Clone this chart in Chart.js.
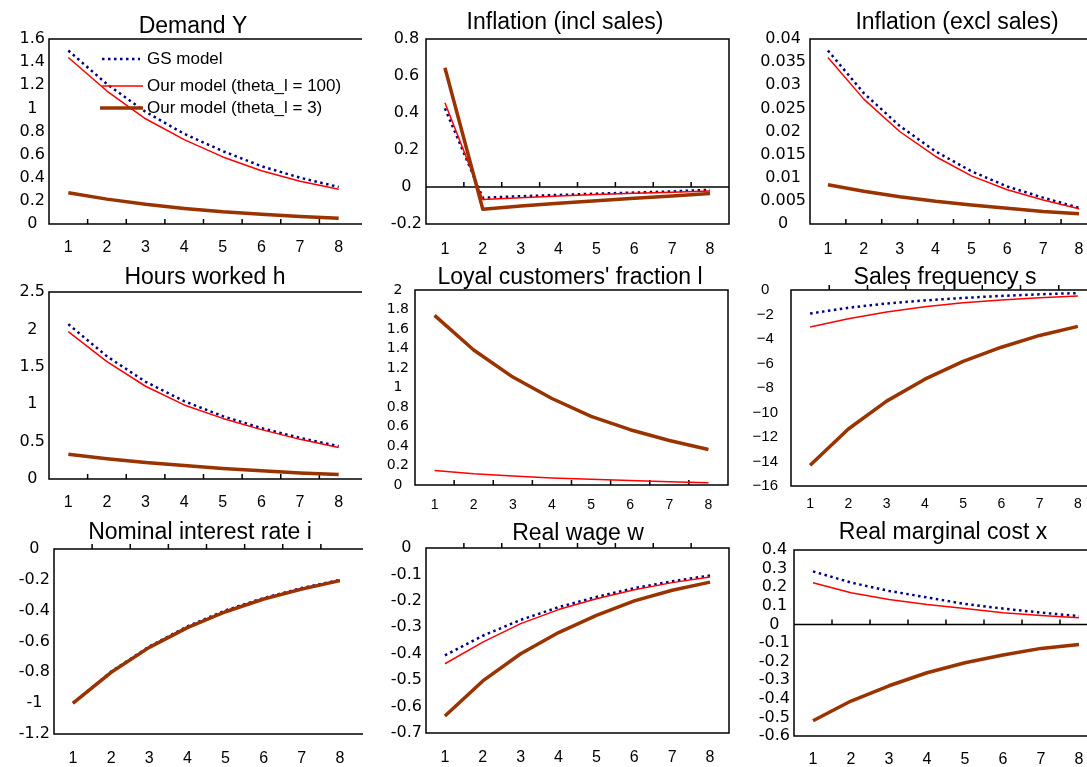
<!DOCTYPE html>
<html>
<head>
<meta charset="utf-8">
<script src="https://cdn.jsdelivr.net/npm/chart.js"></script>
<style>
  html, body { margin: 0; padding: 0; background: #fff; width: 1087px; height: 767px; overflow: hidden; position: relative; }
  canvas { position: absolute; }
</style>
</head>
<body>
<script>
// periods after the shock
const periods = ['1', '2', '3', '4', '5', '6', '7', '8'];
const seriesNames = ['GS model', 'Our model (theta_l = 100)', 'Our model (theta_l = 3)'];

// Demand Y
const demandGS  = [1.50, 1.21, 0.97, 0.78, 0.63, 0.50, 0.40, 0.32];
const demand100 = [1.44, 1.15, 0.91, 0.73, 0.58, 0.46, 0.37, 0.30];
const demand3   = [0.27, 0.215, 0.17, 0.135, 0.105, 0.085, 0.065, 0.05];

// Inflation (incl sales)
const inflInclGS  = [0.425, -0.058, -0.05, -0.043, -0.036, -0.03, -0.024, -0.015];
const inflIncl100 = [0.455, -0.068, -0.058, -0.049, -0.041, -0.034, -0.028, -0.022];
const inflIncl3   = [0.645, -0.12, -0.103, -0.088, -0.074, -0.061, -0.048, -0.035];

// Inflation (excl sales)
const inflExclGS  = [0.0375, 0.0283, 0.0212, 0.0157, 0.0114, 0.0081, 0.0057, 0.0035];
const inflExcl100 = [0.0360, 0.0270, 0.0200, 0.0146, 0.0104, 0.0074, 0.0052, 0.0033];
const inflExcl3   = [0.0085, 0.0071, 0.0059, 0.0049, 0.0041, 0.0034, 0.0027, 0.0022];

// Hours worked h
const hoursGS  = [2.07, 1.64, 1.30, 1.04, 0.84, 0.68, 0.55, 0.44];
const hours100 = [1.97, 1.57, 1.24, 0.99, 0.81, 0.66, 0.53, 0.42];
const hours3   = [0.33, 0.27, 0.22, 0.18, 0.14, 0.11, 0.08, 0.06];

// Loyal customers' fraction l (no GS line)
const loyal100 = [0.148, 0.115, 0.092, 0.073, 0.058, 0.045, 0.033, 0.022];
const loyal3   = [1.74, 1.385, 1.107, 0.887, 0.704, 0.567, 0.457, 0.364];

// Sales frequency s
const salesGS  = [-1.92, -1.45, -1.10, -0.85, -0.65, -0.48, -0.35, -0.25];
const sales100 = [-3.02, -2.34, -1.79, -1.37, -1.04, -0.82, -0.63, -0.49];
const sales3   = [-14.3, -11.35, -9.07, -7.28, -5.82, -4.67, -3.71, -2.97];

// Nominal interest rate i
const rateGS  = [-1.0, -0.795, -0.632, -0.502, -0.398, -0.318, -0.253, -0.201];
const rate100 = [-1.0, -0.798, -0.635, -0.505, -0.402, -0.320, -0.255, -0.202];
const rate3   = [-1.0, -0.80, -0.638, -0.51, -0.407, -0.325, -0.26, -0.205];

// Real wage w
const wageGS  = [-0.406, -0.332, -0.272, -0.224, -0.185, -0.152, -0.126, -0.104];
const wage100 = [-0.438, -0.356, -0.286, -0.233, -0.192, -0.158, -0.131, -0.11];
const wage3   = [-0.636, -0.503, -0.40, -0.32, -0.255, -0.20, -0.16, -0.129];

// Real marginal cost x
const mcGS  = [0.285, 0.225, 0.18, 0.145, 0.11, 0.085, 0.063, 0.045];
const mc100 = [0.224, 0.17, 0.134, 0.107, 0.086, 0.063, 0.048, 0.036];
const mc3   = [-0.518, -0.412, -0.33, -0.26, -0.206, -0.165, -0.129, -0.108];

// y axis [min, max, step]
const demandAxis   = [0, 1.6, 0.2];
const inflInclAxis = [-0.2, 0.8, 0.2];
const inflExclAxis = [0, 0.04, 0.005];
const hoursAxis    = [0, 2.5, 0.5];
const loyalAxis    = [0, 2, 0.2];
const salesAxis    = [-16, 0, 2];
const rateAxis     = [-1.2, 0, 0.2];
const wageAxis     = [-0.7, 0, 0.1];
const mcAxis       = [-0.6, 0.4, 0.1];

const lineStyles = [
    { borderColor: '#000080', borderWidth: 2.5, borderDash: [2.5, 3.5], order: 3 },
    { borderColor: '#ff0000', borderWidth: 1.5, order: 2 },
    { borderColor: '#993300', borderWidth: 3.5, order: 1 }
];

// frame, zero line with period ticks, and the panel title
const decor = {
    id: 'decor',
    beforeDatasetsDraw(chart, args, opts) {
        const { ctx, chartArea: a, scales: { x, y } } = chart;
        const right = opts.openRight ? a.right + 4 : a.right;
        ctx.save();
        ctx.strokeStyle = '#000';
        ctx.lineWidth = 1.5;
        ctx.beginPath();
        ctx.moveTo(right, a.top);
        ctx.lineTo(a.left, a.top);
        ctx.lineTo(a.left, a.bottom);
        ctx.lineTo(right, a.bottom);
        if (!opts.openRight) ctx.closePath();
        const zy = y.getPixelForValue(0);
        ctx.moveTo(a.left, zy);
        ctx.lineTo(right, zy);
        for (let i = 1; i < periods.length; i++) {
            const tx = (x.getPixelForValue(i - 1) + x.getPixelForValue(i)) / 2;
            ctx.moveTo(tx, zy);
            ctx.lineTo(tx, zy - 5);
        }
        ctx.stroke();
        ctx.fillStyle = '#000';
        ctx.font = '23px "Liberation Sans", Arial, sans-serif';
        ctx.textAlign = 'center';
        ctx.textBaseline = 'middle';
        ctx.fillText(opts.text, opts.x, opts.y);
        ctx.restore();
    }
};

// legend drawn inside the first panel
const insideLegend = {
    id: 'insideLegend',
    afterDatasetsDraw(chart, args, opts) {
        if (!opts.rows) return;
        const ctx = chart.ctx;
        chart.data.datasets.forEach((ds, i) => {
            const r = opts.rows[i];
            ctx.save();
            ctx.strokeStyle = ds.borderColor;
            ctx.lineWidth = ds.borderWidth;
            ctx.setLineDash(ds.borderDash || []);
            ctx.beginPath();
            ctx.moveTo(r[0], r[2]);
            ctx.lineTo(r[1], r[2]);
            ctx.stroke();
            ctx.setLineDash([]);
            ctx.fillStyle = '#000';
            ctx.font = '17px "Liberation Sans", Arial, sans-serif';
            ctx.textAlign = 'left';
            ctx.textBaseline = 'middle';
            ctx.fillText(ds.label, opts.textX, r[2]);
            ctx.restore();
        });
    }
};

const cols = [[0, 380], [362, 383], [724, 376]];
const rows = [[0, 262], [255, 260], [510, 257]];

const panels = [
    { title: 'Demand Y', series: [demandGS, demand100, demand3], axis: demandAxis,
      col: 0, row: 0, box: [49, 358, 39, 224], xl: 248, tt: [193, 27],
      legend: { rows: [[102, 140, 59], [102, 143, 86], [100, 143, 108]], textX: 147 } },
    { title: 'Inflation (incl sales)', series: [inflInclGS, inflIncl100, inflIncl3], axis: inflInclAxis,
      col: 1, row: 0, box: [426, 729, 39, 224], xl: 250, tt: [565, 23] },
    { title: 'Inflation (excl sales)', series: [inflExclGS, inflExcl100, inflExcl3], axis: inflExclAxis,
      col: 2, row: 0, box: [810, 1098, 39, 224], xl: 250, tt: [957, 23] },
    { title: 'Hours worked h', series: [hoursGS, hours100, hours3], axis: hoursAxis,
      col: 0, row: 1, box: [49, 358, 292, 479], xl: 503, tt: [205, 278] },
    { title: "Loyal customers' fraction l", series: [null, loyal100, loyal3], axis: loyalAxis,
      col: 1, row: 1, box: [415, 728, 290, 485], xl: 505, tt: [570, 278],
      yFont: 14, xFont: 14, yPad: 6 },
    { title: 'Sales frequency s', series: [salesGS, sales100, sales3], axis: salesAxis,
      col: 2, row: 1, box: [791, 1097, 290, 486], xl: 504, tt: [945, 278],
      yFont: 15, yFamily: '"Liberation Sans", Arial, sans-serif', xFont: 14, yPad: 13, minus: true },
    { title: 'Nominal interest rate i', series: [rateGS, rate100, rate3], axis: rateAxis,
      col: 0, row: 2, box: [54, 359, 549, 734], xl: 759, tt: [200, 533] },
    { title: 'Real wage w', series: [wageGS, wage100, wage3], axis: wageAxis,
      col: 1, row: 2, box: [426, 729, 548, 733], xl: 758, tt: [578, 534] },
    { title: 'Real marginal cost x', series: [mcGS, mc100, mc3], axis: mcAxis,
      col: 2, row: 2, box: [794, 1098, 550, 736], xl: 760, tt: [943, 533] }
];

function fmt(v, minus) {
    const s = String(Math.round(v * 100000) / 100000);
    return minus ? s.replace('-', '\u2212') : s;
}

function makePanel(p) {
    const [cl, cw] = cols[p.col];
    const [ct, ch] = rows[p.row];
    const [L, R, T, B] = p.box;
    const cv = document.createElement('canvas');
    cv.width = cw;
    cv.height = ch;
    cv.style.left = cl + 'px';
    cv.style.top = ct + 'px';
    cv.style.width = cw + 'px';
    cv.style.height = ch + 'px';
    document.body.appendChild(cv);

    const datasets = [];
    p.series.forEach((data, i) => {
        if (!data) return;
        datasets.push(Object.assign({ label: seriesNames[i], data: data, fill: false }, lineStyles[i]));
    });

    const xFont = p.xFont || 16;
    const yFont = p.yFont || 16;

    new Chart(cv, {
        type: 'line',
        data: { labels: periods, datasets: datasets },
        options: {
            responsive: false,
            animation: false,
            devicePixelRatio: 1,
            layout: { padding: { left: 0, top: T - ct, right: cl + cw - R, bottom: 0 } },
            elements: { point: { radius: 0 }, line: { tension: 0, borderJoinStyle: 'round' } },
            plugins: {
                legend: { display: false },
                title: { display: false },
                tooltip: { enabled: false },
                decor: { text: p.title, x: p.tt[0] - cl, y: p.tt[1] - ct, openRight: p.col === 0 },
                insideLegend: p.legend ? { rows: p.legend.rows.map(r => [r[0] - cl, r[1] - cl, r[2] - ct]), textX: p.legend.textX - cl } : {}
            },
            scales: {
                x: {
                    type: 'category',
                    offset: true,
                    grid: { display: false, drawTicks: false },
                    border: { display: false },
                    ticks: {
                        color: '#000',
                        font: { family: '"Liberation Sans", Arial, sans-serif', size: xFont },
                        padding: p.xl - B - xFont * 0.6,
                        autoSkip: false,
                        maxRotation: 0
                    },
                    afterFit: s => { s.height = ct + ch - B; }
                },
                y: {
                    min: p.axis[0],
                    max: p.axis[1],
                    grid: { display: false, drawTicks: false },
                    border: { display: false },
                    ticks: {
                        stepSize: p.axis[2],
                        autoSkip: false,
                        crossAlign: 'center',
                        padding: p.yPad || 4,
                        color: '#000',
                        font: { family: p.yFamily || '"DejaVu Sans", sans-serif', size: yFont },
                        callback: v => fmt(v, p.minus)
                    },
                    afterFit: s => { s.width = L - cl; }
                }
            }
        },
        plugins: [decor, insideLegend]
    });
}

panels.forEach(makePanel);
</script>
</body>
</html>
